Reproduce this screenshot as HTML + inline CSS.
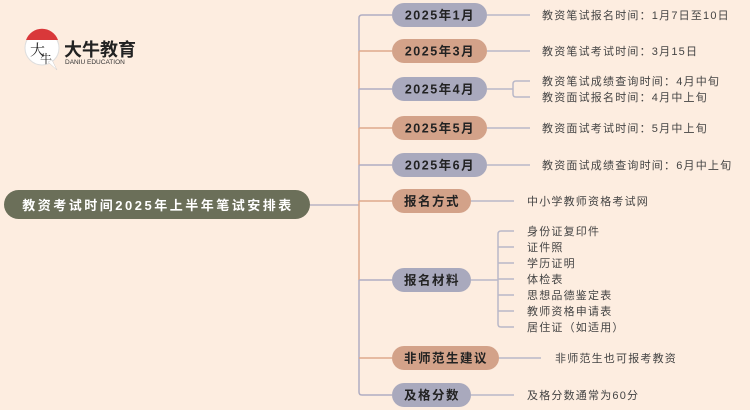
<!DOCTYPE html>
<html><head><meta charset="utf-8"><style>
html,body{margin:0;padding:0;background:#fdede0;}
svg{display:block;}
text{font-family:"Liberation Sans","Noto Sans CJK SC",sans-serif;}
.n{font-size:12.5px;font-weight:bold;fill:#222;text-anchor:middle;letter-spacing:1.5px;}
.t{font-size:11px;fill:#444;letter-spacing:1.2px;}
</style></head><body>
<svg width="750" height="410" viewBox="0 0 750 410" xmlns="http://www.w3.org/2000/svg">
<rect width="750" height="410" fill="#fdede0"/>
<!-- logo -->
<circle cx="42" cy="48" r="17" fill="#fff" stroke="#ddd"/>
<path d="M26 40 A17 17 0 0 1 58 40 Z" fill="#d9383a"/>
<path d="M48 62 L57 70 L52 60 Z" fill="#fff" stroke="#ccc" stroke-width="0.5"/>
<text x="30" y="55" font-size="15" fill="#222" style="font-family:'Noto Serif CJK SC',serif">大</text>
<text x="40" y="63" font-size="12" fill="#222" style="font-family:'Noto Serif CJK SC',serif">牛</text>
<text x="64" y="56" font-size="18" font-weight="bold" fill="#222">大牛教育</text>
<text x="65" y="64" font-size="6.5" fill="#333">DANIU EDUCATION</text>
<!-- root -->
<line x1="310" y1="205" x2="359" y2="205" stroke="#b9b4c4" stroke-width="1.5"/>
<rect x="4" y="190" width="306" height="29" rx="14.5" fill="#6b6f59"/>
<text x="158" y="210" font-size="13" font-weight="bold" fill="#fff" text-anchor="middle" letter-spacing="2.5">教资考试时间2025年上半年笔试安排表</text>
<!-- trunk -->
<g fill="none" stroke-width="1.5">
<path d="M392 15 H362 Q359 15 359 18 V51" stroke="#b0adc2"/>
<path d="M359 51 V89" stroke="#dfa98c"/>
<path d="M359 89 V128" stroke="#b0adc2"/>
<path d="M359 128 V165" stroke="#dfa98c"/>
<path d="M359 165 V201" stroke="#b0adc2"/>
<path d="M359 201 V280" stroke="#dfa98c"/>
<path d="M359 280 V358" stroke="#b0adc2"/>
<path d="M359 358 V392 Q359 395 362 395 H392" stroke="#b0adc2"/>
<path d="M359 51 H392 M359 128 H392 M359 201 H392 M359 358 H392" stroke="#dfa98c"/>
<path d="M359 89 H392 M359 165 H392 M359 280 H392" stroke="#b0adc2"/>
<g stroke="#b9b8c8">
<path d="M487 15 H530 M487 51 H530 M487 128 H530 M487 165 H530"/>
<path d="M487 89 H513 M530 81 H516 Q513 81 513 84 V94 Q513 97 516 97 H530"/>
<path d="M471 201 H514 M471 395 H514 M499 358 H541"/>
<path d="M471 280 H498 M514 231 H501 Q498 231 498 234 V324 Q498 327 501 327 H514 M498 247 H514 M498 263 H514 M498 279 H514 M498 295 H514 M498 311 H514"/>
</g>
</g>
<!-- nodes -->
<g>
<rect x="392" y="3" width="95" height="24" rx="12" fill="#a9a9bd"/><text class="n" x="440" y="19.5">2025年1月</text>
<rect x="392" y="39" width="95" height="24" rx="12" fill="#d3a289"/><text class="n" x="440" y="55.5">2025年3月</text>
<rect x="392" y="77" width="95" height="24" rx="12" fill="#a9a9bd"/><text class="n" x="440" y="93.5">2025年4月</text>
<rect x="392" y="116" width="95" height="24" rx="12" fill="#d3a289"/><text class="n" x="440" y="132.5">2025年5月</text>
<rect x="392" y="153" width="95" height="24" rx="12" fill="#a9a9bd"/><text class="n" x="440" y="169.5">2025年6月</text>
<rect x="392" y="189" width="79" height="24" rx="12" fill="#d3a289"/><text class="n" x="432" y="205.5">报名方式</text>
<rect x="392" y="268" width="79" height="24" rx="12" fill="#a9a9bd"/><text class="n" x="432" y="284.5">报名材料</text>
<rect x="392" y="346" width="107" height="24" rx="12" fill="#d3a289"/><text class="n" x="446" y="362.5">非师范生建议</text>
<rect x="392" y="383" width="79" height="24" rx="12" fill="#a9a9bd"/><text class="n" x="432" y="399.5">及格分数</text>
</g>
<!-- leaves -->
<g>
<text class="t" x="542" y="19">教资笔试报名时间：1月7日至10日</text>
<text class="t" x="542" y="55">教资笔试考试时间：3月15日</text>
<text class="t" x="542" y="85">教资笔试成绩查询时间：4月中旬</text>
<text class="t" x="542" y="101">教资面试报名时间：4月中上旬</text>
<text class="t" x="542" y="132">教资面试考试时间：5月中上旬</text>
<text class="t" x="542" y="169">教资面试成绩查询时间：6月中上旬</text>
<text class="t" x="527" y="205">中小学教师资格考试网</text>
<text class="t" x="527" y="235">身份证复印件</text>
<text class="t" x="527" y="251">证件照</text>
<text class="t" x="527" y="267">学历证明</text>
<text class="t" x="527" y="283">体检表</text>
<text class="t" x="527" y="299">思想品德鉴定表</text>
<text class="t" x="527" y="315">教师资格申请表</text>
<text class="t" x="527" y="331">居住证（如适用）</text>
<text class="t" x="555" y="362">非师范生也可报考教资</text>
<text class="t" x="527" y="399">及格分数通常为60分</text>
</g>
</svg>
</body></html>
